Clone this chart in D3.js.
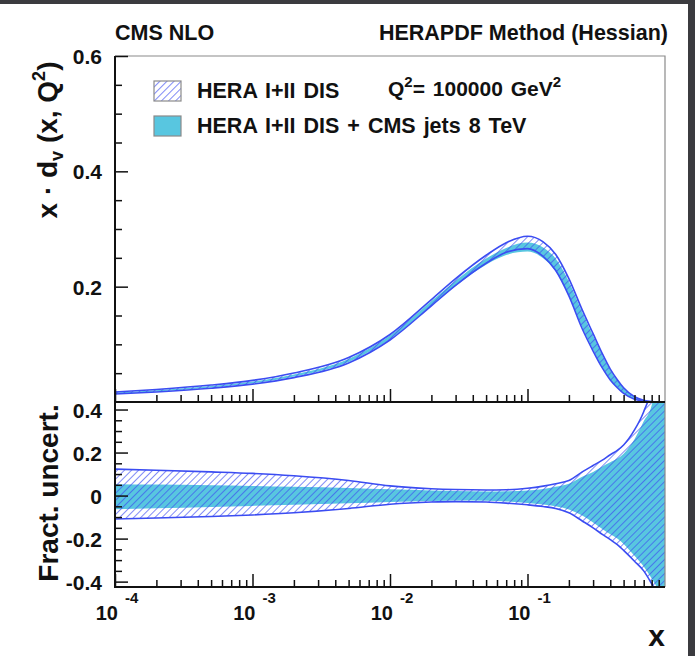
<!DOCTYPE html>
<html>
<head>
<meta charset="utf-8">
<script src="https://cdn.jsdelivr.net/npm/d3@7"></script>
<style>
body { margin: 0; background: #3b3b3f; }
svg text { font-family: "Liberation Sans", Arial, Helvetica, sans-serif; font-weight: bold; fill: #111; }
</style>
</head>
<body>
<svg id="chart" width="695" height="656"></svg>
<script>

// x grid of the PDF curves
var xs = [1e-4, 2e-4, 5e-4, 1e-3, 2e-3, 5e-3, 0.01, 0.02, 0.03, 0.05, 0.07, 0.1, 0.13, 0.16,
          0.2, 0.25, 0.3, 0.35, 0.4, 0.45, 0.5, 0.6, 0.7, 0.8, 0.9, 1.0];

// x * d_v(x, Q^2) central values
var heraCentral = [0.0155, 0.0195, 0.0265, 0.0340, 0.0460, 0.0720, 0.1120, 0.1720, 0.2080, 0.2480,
                   0.2690, 0.2780, 0.2660, 0.2430, 0.2000, 0.1440, 0.1040, 0.0720, 0.0480, 0.0320,
                   0.0200, 0.0070, 0.0022, 0.0006, 0.0001, 0.0];
var cmsCentral  = [0.0155, 0.0195, 0.0265, 0.0340, 0.0460, 0.0720, 0.1120, 0.1710, 0.2060, 0.2440,
                   0.2620, 0.2700, 0.2600, 0.2390, 0.1980, 0.1430, 0.1035, 0.0718, 0.0478, 0.0320,
                   0.0200, 0.0070, 0.0022, 0.0006, 0.0001, 0.0];

// fractional uncertainties (lower panel)
var heraUp = [0.123, 0.118, 0.110, 0.103, 0.092, 0.070, 0.045, 0.032, 0.028, 0.026, 0.027, 0.034, 0.044,
              0.055, 0.070, 0.110, 0.140, 0.165, 0.190, 0.210, 0.235, 0.305, 0.390, 0.500, 0.700, 1.000];
var heraDn = [-0.109, -0.104, -0.097, -0.090, -0.080, -0.060, -0.040, -0.030, -0.028, -0.030, -0.035, -0.043, -0.051,
              -0.060, -0.080, -0.118, -0.150, -0.180, -0.205, -0.228, -0.255, -0.305, -0.350, -0.410, -0.470, -0.550];
var cmsUp  = [0.053, 0.051, 0.048, 0.045, 0.041, 0.035, 0.029, 0.024, 0.021, 0.019, 0.020, 0.024, 0.031,
              0.041, 0.055, 0.088, 0.110, 0.135, 0.155, 0.172, 0.195, 0.262, 0.345, 0.420, 0.600, 0.900];
var cmsDn  = [-0.063, -0.059, -0.053, -0.048, -0.043, -0.036, -0.030, -0.025, -0.023, -0.024, -0.027, -0.034, -0.041,
              -0.050, -0.065, -0.093, -0.125, -0.155, -0.180, -0.200, -0.225, -0.280, -0.330, -0.385, -0.440, -0.500];

// tick labels
var topTickLabels = [0.2, 0.4, 0.6];
var botTickLabels = [-0.4, -0.2, 0, 0.2, 0.4];
var xDecades = [-4, -3, -2, -1];

var legendLabels = ["HERA I+II DIS", "HERA I+II DIS + CMS jets 8 TeV"];

var BLUE = "#3b4cf2";
var CYAN = "#58c6e0";

var svg = d3.select("#chart");

// screenshot border
svg.append("rect").attr("width", 695).attr("height", 656).attr("fill", "#3b3b3f");
svg.append("rect").attr("x", 0).attr("y", 4).attr("width", 688).attr("height", 652).attr("fill", "#fff");

var x = d3.scaleLog().domain([1e-4, 1]).range([115, 665]);
var yTop = d3.scaleLinear().domain([0, 0.6]).range([402, 56]);
var yBot = d3.scaleLinear().domain([-0.425, 0.435]).range([587, 402]);

var defs = svg.append("defs");
var pat = defs.append("pattern")
    .attr("id", "hatch")
    .attr("patternUnits", "userSpaceOnUse")
    .attr("width", 5).attr("height", 5)
    .attr("patternTransform", "rotate(45)");
pat.append("line")
    .attr("x1", 0).attr("y1", 0).attr("x2", 0).attr("y2", 5)
    .attr("stroke", BLUE).attr("stroke-width", 1.3);

defs.append("clipPath").attr("id", "clipTop").append("rect")
    .attr("x", 115).attr("y", 56).attr("width", 550).attr("height", 346);
defs.append("clipPath").attr("id", "clipBot").append("rect")
    .attr("x", 115).attr("y", 402).attr("width", 550).attr("height", 185);

function bandArea(yScale, lo, hi) {
    return d3.area()
        .x(function(d, i) { return x(xs[i]); })
        .y0(function(d, i) { return yScale(lo[i]); })
        .y1(function(d, i) { return yScale(hi[i]); })
        .curve(d3.curveMonotoneX)(xs);
}
function edgeLine(yScale, vals) {
    return d3.line()
        .x(function(d, i) { return x(xs[i]); })
        .y(function(d, i) { return yScale(vals[i]); })
        .curve(d3.curveMonotoneX)(xs);
}

// draws one CMS (filled) + HERA (hatched) pair of bands
function drawBands(g, yScale, hLo, hHi, cLo, cHi) {
    g.append("path").attr("d", bandArea(yScale, cLo, cHi)).attr("fill", CYAN);
    g.append("path").attr("d", bandArea(yScale, hLo, hHi)).attr("fill", "url(#hatch)");
    g.append("path").attr("d", edgeLine(yScale, hHi)).attr("fill", "none").attr("stroke", BLUE).attr("stroke-width", 1.6);
    g.append("path").attr("d", edgeLine(yScale, hLo)).attr("fill", "none").attr("stroke", BLUE).attr("stroke-width", 1.6);
}

// upper panel: absolute bands
var hLoT = heraCentral.map(function(v, i) { return v * (1 + heraDn[i]); });
var hHiT = heraCentral.map(function(v, i) { return v * (1 + heraUp[i]); });
var cLoT = cmsCentral.map(function(v, i) { return v * (1 + cmsDn[i]); });
var cHiT = cmsCentral.map(function(v, i) { return v * (1 + cmsUp[i]); });

drawBands(svg.append("g").attr("clip-path", "url(#clipTop)"), yTop, hLoT, hHiT, cLoT, cHiT);
drawBands(svg.append("g").attr("clip-path", "url(#clipBot)"), yBot, heraDn, heraUp, cmsDn, cmsUp);

// frame (thin grey top / right)
svg.append("path")
    .attr("d", "M115,56H665V587")
    .attr("fill", "none").attr("stroke", "#8a8a8a").attr("stroke-width", 1.2);

// x minor / major tick values
var xMajor = xDecades.map(function(e) { return Math.pow(10, e); });
var xMinor = [];
xDecades.forEach(function(e) {
    for (var k = 2; k <= 9; k++) xMinor.push(k * Math.pow(10, e));
});

function drawXTicks(y0) {
    var g = svg.append("g").attr("transform", "translate(0," + y0 + ")");
    g.call(d3.axisBottom(x).tickValues(xMajor).tickSize(-13).tickFormat(""));
    g.select(".domain").remove();
    var g2 = svg.append("g").attr("transform", "translate(0," + y0 + ")");
    g2.call(d3.axisBottom(x).tickValues(xMinor).tickSize(-7).tickFormat(""));
    g2.select(".domain").remove();
    svg.selectAll(".tick line").attr("stroke", "#111").attr("stroke-width", 1.5);
}
drawXTicks(402);
drawXTicks(587);

function drawYAxis(scale, labels, lo, hi) {
    var minor = d3.range(Math.round(lo / 0.05), Math.round(hi / 0.05) + 1).map(function(k) { return +(k * 0.05).toFixed(2); })
        .filter(function(v) { return Math.abs(Math.round(v / 0.2) * 0.2 - v) > 1e-6; });
    var gMin = svg.append("g").attr("transform", "translate(115,0)");
    gMin.call(d3.axisLeft(scale).tickValues(minor).tickSize(-7).tickFormat(""));
    gMin.select(".domain").remove();
    var gMaj = svg.append("g").attr("transform", "translate(115,0)");
    gMaj.call(d3.axisLeft(scale).tickValues(labels).tickSize(-13).tickPadding(13)
        .tickFormat(function(d) { return d === 0 ? "0" : d.toFixed(1); }));
    gMaj.select(".domain").remove();
    gMaj.selectAll("text").style("font-size", "21px").attr("dy", "0.36em");
    svg.selectAll(".tick line").attr("stroke", "#111").attr("stroke-width", 1.5);
}
drawYAxis(yTop, topTickLabels, 0, 0.6);
drawYAxis(yBot, botTickLabels, -0.4, 0.4);

// black axis lines
svg.append("path")
    .attr("d", "M115,56V587H665M115,402H665")
    .attr("fill", "none").attr("stroke", "#111").attr("stroke-width", 2);

// x tick labels 10^n
svg.append("g").selectAll("text").data(xDecades).enter().append("text")
    .attr("x", function(d) { return x(Math.pow(10, d)) + 3; })
    .attr("y", 620)
    .attr("text-anchor", "end")
    .style("font-size", "20px")
    .text("10");
svg.append("g").selectAll("text").data(xDecades).enter().append("text")
    .attr("x", function(d) { return x(Math.pow(10, d)) + 10; })
    .attr("y", 603)
    .style("font-size", "15px")
    .text(function(d) { return "-" + Math.abs(d); });

// titles
svg.append("text").attr("x", 115).attr("y", 40).style("font-size", "21.5px").text("CMS NLO");
svg.append("text").attr("x", 668).attr("y", 40).attr("text-anchor", "end").style("font-size", "21.5px")
    .text("HERAPDF Method (Hessian)");

var q = svg.append("text").attr("x", 388).attr("y", 96).style("font-size", "21px").style("word-spacing", "2px");
q.append("tspan").text("Q");
q.append("tspan").attr("dy", -9).style("font-size", "15px").text("2");
q.append("tspan").attr("dy", 9).text("= 100000 GeV");
q.append("tspan").attr("dy", -9).style("font-size", "15px").text("2");

// legend
var leg = svg.append("g");
leg.append("rect").attr("x", 154).attr("y", 81).attr("width", 27).attr("height", 20).attr("fill", "#fff");
leg.append("rect").attr("x", 154).attr("y", 81).attr("width", 27).attr("height", 20)
    .attr("fill", "url(#hatch)").attr("stroke", "#8a8a8a").attr("stroke-width", 1.2);
leg.append("rect").attr("x", 154).attr("y", 116).attr("width", 27).attr("height", 20)
    .attr("fill", CYAN).attr("stroke", "#8a8a8a").attr("stroke-width", 1.2);
leg.selectAll("text.lab").data(legendLabels).enter().append("text")
    .attr("x", 197)
    .attr("y", function(d, i) { return 98 + i * 35; })
    .style("font-size", "21.5px")
    .style("word-spacing", "2px")
    .text(function(d) { return d; });

// axis titles
var yt = svg.append("text")
    .attr("transform", "translate(57,140) rotate(-90)")
    .attr("text-anchor", "middle")
    .style("font-size", "28px");
yt.append("tspan").text("x \u00b7 d");
yt.append("tspan").attr("dy", 6).style("font-size", "18px").text("v");
yt.append("tspan").attr("dy", -6).text(" (x, Q");
yt.append("tspan").attr("dy", -12).style("font-size", "18px").text("2");
yt.append("tspan").attr("dy", 12).text(")");

svg.append("text")
    .attr("transform", "translate(58,493) rotate(-90)")
    .attr("text-anchor", "middle")
    .style("font-size", "28px")
    .text("Fract. uncert.");

svg.append("text").attr("x", 665).attr("y", 646).attr("text-anchor", "end")
    .style("font-size", "30px").text("x");

</script>
</body>
</html>
